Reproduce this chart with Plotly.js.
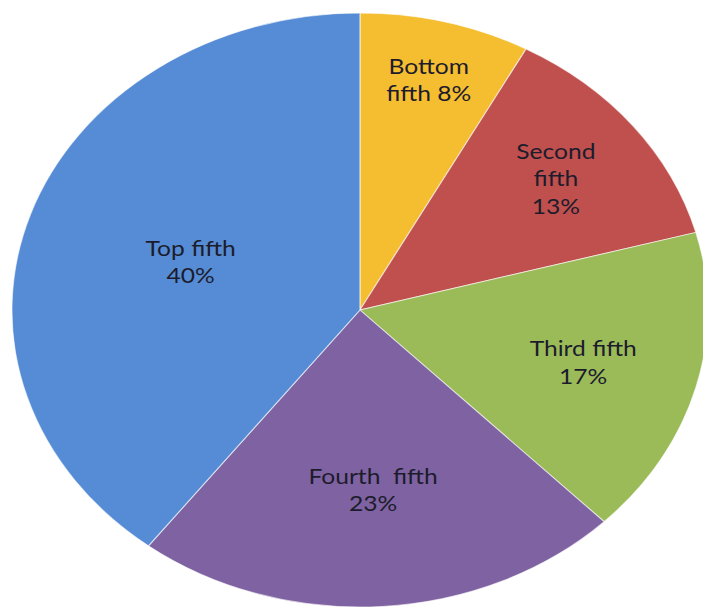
<!DOCTYPE html>
<html>
<head>
<meta charset="utf-8">
<script src="https://cdn.plot.ly/plotly-3.0.1.min.js"></script>
<style>
  html, body { margin: 0; padding: 0; background: #ffffff; overflow: hidden; width: 703px; height: 610px; }
  #chart { width: 620px; height: 610px; transform-origin: 0 0; transform: scaleX(1.1717); }
</style>
</head>
<body>
<div id="chart"></div>
<script>
const categories = ["Bottom fifth", "Second fifth", "Third fifth", "Fourth fifth", "Top fifth"];
const shares = [8, 13, 17, 23, 40];
const sliceText = ["Bottom<br>fifth 8%", "Second<br>fifth<br>13%", "Third fifth<br>17%", "Fourth  fifth<br>23%", "Top fifth<br>40%"];
const colors = ["#F5BD30", "#C0504D", "#9BBB59", "#7F62A1", "#568CD6"];

const W = 620, H = 610, R = 297, CX = 307.2, CY = 310;

Plotly.newPlot("chart", [{
  type: "pie",
  labels: categories,
  values: shares,
  text: sliceText,
  textinfo: "text",
  hoverinfo: "label+value",
  textposition: "inside",
  insidetextorientation: "horizontal",
  sort: false,
  direction: "clockwise",
  rotation: 0,
  marker: { colors: colors, line: { color: "rgba(255,255,255,0.6)", width: 1 } },
  textfont: { family: "Lato, 'Liberation Sans', sans-serif", size: 21, color: "#1c1c2c" },
  domain: { x: [(CX - R) / W, (CX + R) / W], y: [(H - CY - R) / H, (H - CY + R) / H] }
}], {
  width: W, height: H,
  margin: { l: 0, r: 0, t: 0, b: 0 },
  showlegend: false,
  paper_bgcolor: "#ffffff"
}, { displayModeBar: false, staticPlot: true });
</script>
</body>
</html>
